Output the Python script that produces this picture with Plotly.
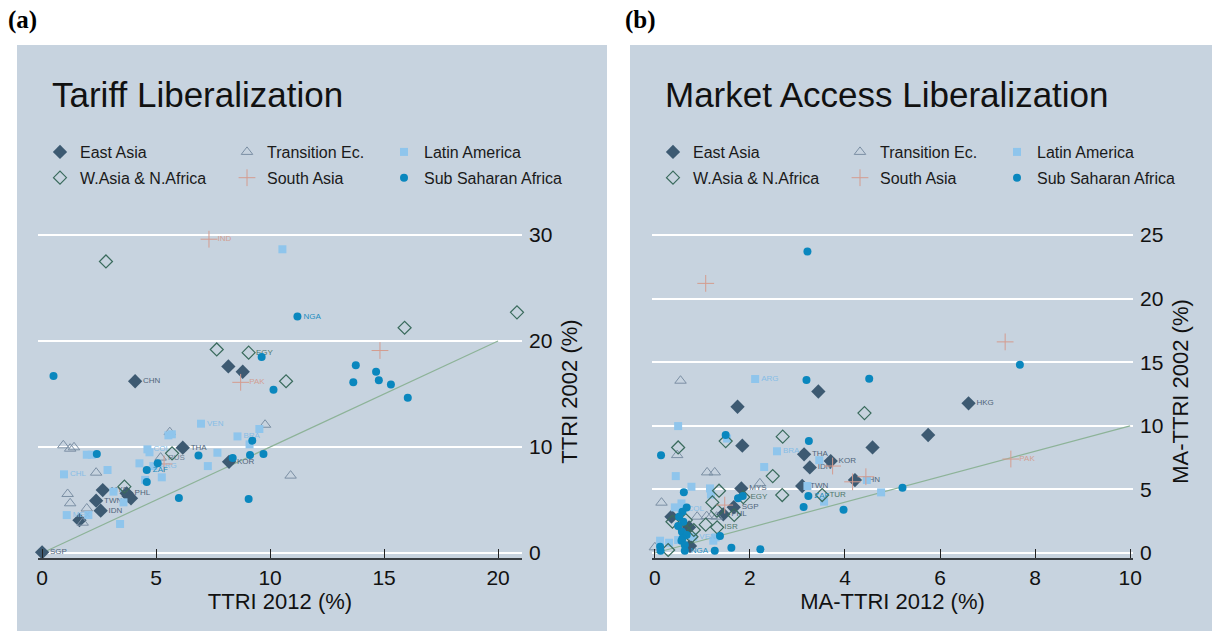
import plotly.graph_objects as go

# ---------------- Panel (a): TTRI 2012 vs TTRI 2002 ----------------
ea_a_x = [4.08, 8.17, 8.80, 6.17, 8.20, 2.66, 3.71, 3.79, 3.90, 2.37, 2.57, 1.64, 0.0]
ea_a_y = [16.2, 17.6, 17.1, 9.94, 8.6, 5.94, 5.63, 5.38, 5.16, 4.94, 3.99, 3.1, 0.07]
ea_a_lab = ["CHN", "", "", "THA", "KOR", "MYS", "PHL", "", "", "TWN", "IDN", "", "SGP"]

tr_a_x = [9.78, 5.60, 5.20, 0.93, 1.23, 1.40, 2.37, 1.12, 1.23, 1.96, 1.78, 10.9]
tr_a_y = [12.1, 11.4, 9.0, 10.16, 9.84, 9.97, 7.58, 5.57, 4.69, 4.2, 2.86, 7.3]
tr_a_lab = ["", "", "RUS", "", "", "", "", "", "", "", "", ""]

la_a_x = [10.54, 6.97, 9.53, 8.57, 9.10, 5.54, 5.69, 4.62, 4.71, 7.69, 4.88, 4.27, 7.27,
          5.25, 4.52, 1.96, 2.18, 0.96, 2.87, 1.08, 2.03, 3.42, 3.13, 3.57]
la_a_y = [28.65, 12.2, 11.7, 11.0, 10.25, 11.1, 11.2, 9.78, 9.5, 9.46, 8.2, 8.46, 8.2,
          7.14, 6.9, 9.27, 9.27, 7.42, 7.83, 3.58, 3.58, 2.74, 5.79, 4.78]
la_a_lab = ["", "VEN", "", "BRA", "", "", "", "COL", "", "", "ARG", "", "",
            "", "", "", "", "CHL", "", "MEX", "", "", "", ""]

wa_a_x = [7.66, 9.06, 10.7, 15.9, 20.83, 5.70, 3.61, 2.80]
wa_a_y = [19.2, 18.9, 16.2, 21.25, 22.7, 9.4, 6.26, 27.5]
wa_a_lab = ["", "EGY", "", "", "", "", "", ""]

sa_a_x = [7.32, 8.71, 14.82, 5.35]
sa_a_y = [29.6, 16.1, 19.1, 8.4]
sa_a_lab = ["IND", "PAK", "", ""]

ss_a_x = [11.2, 9.63, 10.15, 0.50, 13.76, 14.65, 13.65, 14.77, 15.3, 16.04, 9.22, 9.12,
          9.71, 6.86, 8.36, 5.07, 4.59, 4.59, 6.0, 9.06, 2.40]
ss_a_y = [22.3, 18.5, 15.4, 16.7, 17.7, 17.1, 16.1, 16.3, 15.9, 14.65, 10.6, 9.25,
          9.34, 9.2, 8.96, 8.46, 7.83, 6.7, 5.2, 5.1, 9.34]
ss_a_lab = ["NGA", "", "", "", "", "", "", "", "", "", "", "",
            "", "", "", "", "ZAF", "", "", "", ""]

diag_a = [0, 20]

# ---------------- Panel (b): MA-TTRI 2012 vs MA-TTRI 2002 ----------------
ea_b_x = [6.60, 3.44, 1.74, 1.84, 5.75, 4.58, 3.14, 3.70, 3.26, 4.21, 1.82, 3.10, 1.66,
          1.44, 0.35, 0.72, 0.74]
ea_b_y = [11.77, 12.7, 11.5, 8.44, 9.28, 8.3, 7.76, 7.23, 6.73, 5.74, 5.08, 5.27, 3.6,
          3.04, 2.86, 2.02, 0.55]
ea_b_lab = ["HKG", "", "", "", "", "", "THA", "KOR", "IDN", "CHN", "MYS", "TWN", "SGP",
            "PHL", "", "", ""]

tr_b_x = [0.54, 0.47, 1.10, 1.26, 2.21, 0.14, 0.89, 1.09, 1.19, 1.30, 0.0]
tr_b_y = [13.55, 7.7, 6.34, 6.34, 5.48, 3.96, 2.86, 2.9, 2.9, 2.86, 0.45]
tr_b_lab = [""] * 11

la_b_x = [2.11, 0.49, 1.52, 2.57, 3.46, 2.30, 0.44, 0.77, 1.16, 1.18, 3.21, 3.56, 4.76,
          0.56, 0.56, 0.42, 0.81, 1.23, 1.28, 0.11, 0.30, 0.49, 4.46]
la_b_y = [13.68, 9.98, 9.0, 8.0, 7.3, 6.76, 6.05, 5.21, 5.08, 4.6, 5.27, 4.04, 4.77,
          3.46, 3.9, 3.59, 1.28, 0.97, 1.23, 0.97, 0.81, 1.02, 5.74]
la_b_lab = ["ARG", "", "", "BRA", "", "", "", "", "", "", "", "", "",
            "COL", "", "", "VEN", "", "", "", "", "", ""]

wa_b_x = [4.41, 1.49, 2.69, 0.49, 2.48, 1.35, 2.68, 3.52, 1.86, 1.21, 1.31, 1.67, 1.07,
          1.31, 0.37, 0.65, 0.82, 0.77, 0.28, 0.63]
wa_b_y = [11.0, 8.8, 9.15, 8.3, 6.05, 4.9, 4.56, 4.56, 4.4, 3.98, 3.33, 2.99, 2.23,
          2.02, 2.46, 2.59, 1.81, 1.28, 0.24, 1.81]
wa_b_lab = ["", "", "", "", "", "", "", "TUR", "EGY", "", "", "", "",
            "ISR", "", "", "", "", "", ""]

sa_b_x = [1.07, 7.37, 7.49, 3.74, 4.16, 4.44, 1.47]
sa_b_y = [21.2, 16.6, 7.39, 6.84, 5.6, 6.0, 3.77]
sa_b_lab = ["", "", "PAK", "", "", "", ""]

ss_b_x = [3.21, 7.68, 3.19, 4.51, 1.49, 3.24, 0.13, 3.23, 0.61, 1.85, 1.75, 3.13, 3.97,
          5.21, 0.67, 0.58, 0.51, 0.60, 0.49, 0.57, 0.67, 0.58, 0.56, 0.63, 0.11, 0.12,
          0.63, 1.26, 1.61, 2.22, 1.37]
ss_b_y = [23.7, 14.8, 13.6, 13.7, 9.28, 8.8, 7.68, 4.48, 4.77, 4.48, 4.3, 3.62, 3.41,
          5.13, 3.59, 3.25, 2.86, 2.46, 2.12, 1.68, 1.42, 1.15, 0.97, 0.63, 0.5, 0.18,
          0.18, 0.18, 0.42, 0.29, 1.34]
ss_b_lab = ["", "", "", "", "", "", "", "ZAF", "", "", "", "", "",
            "", "", "", "", "", "", "", "", "", "", "", "", "",
            "NGA", "", "", "", ""]

diag_b = [0, 10]

# ---------------- Styling ----------------
W, H = 1212, 631
BG = "#c7d3df"
FONT = "Liberation Sans, Arial, sans-serif"

GROUPS = [
    # name, marker symbol, size, color, label color, line width, legend column
    ("East Asia", "diamond", 11, "#3d5a72", "#4f657a", 0, 0),
    ("Transition Ec.", "triangle-up-open", 10, "#7b8fa4", "#6f8296", 1, 1),
    ("Latin America", "square", 8, "#8fc5ec", "#86bde6", 0, 2),
    ("W.Asia & N.Africa", "diamond-open", 10, "#3a6b5d", "#4f786c", 1.2, 0),
    ("South Asia", "cross-thin-open", 12, "#d49c8f", "#d2a093", 1, 1),
    ("Sub Saharan Africa", "circle", 8, "#0a87be", "#1d8dc0", 0, 2),
]

panel_a = [(ea_a_x, ea_a_y, ea_a_lab), (tr_a_x, tr_a_y, tr_a_lab), (la_a_x, la_a_y, la_a_lab),
           (wa_a_x, wa_a_y, wa_a_lab), (sa_a_x, sa_a_y, sa_a_lab), (ss_a_x, ss_a_y, ss_a_lab)]
panel_b = [(ea_b_x, ea_b_y, ea_b_lab), (tr_b_x, tr_b_y, tr_b_lab), (la_b_x, la_b_y, la_b_lab),
           (wa_b_x, wa_b_y, wa_b_lab), (sa_b_x, sa_b_y, sa_b_lab), (ss_b_x, ss_b_y, ss_b_lab)]

fig = go.Figure()


def add_panel(data, diag, xa, ya, legend_ids, tag):
    fig.add_trace(go.Scatter(x=diag, y=diag, mode="lines", xaxis=xa, yaxis=ya,
                             line=dict(color="#8db398", width=1.2), showlegend=False,
                             hoverinfo="skip"))
    for (xs, ys, labs), (name, sym, size, col, lcol, lw, lcolumn) in zip(data, GROUPS):
        fig.add_trace(go.Scatter(
            x=xs, y=ys, text=labs, mode="markers+text", name=name,
            xaxis=xa, yaxis=ya, legend=legend_ids[lcolumn],
            legendgroup=tag + name,
            textposition="middle right",
            textfont=dict(family=FONT, size=8, color=lcol),
            marker=dict(symbol=sym, size=size, color=col,
                        line=dict(color=col, width=lw)),
            cliponaxis=False,
        ))


add_panel(panel_a, diag_a, "x", "y", ["legend", "legend2", "legend3"], "a")
add_panel(panel_b, diag_b, "x2", "y2", ["legend4", "legend5", "legend6"], "b")


def px_x(v):
    return v / W


def px_y(v):
    return 1 - v / H


ydom = [px_y(558), px_y(225)]

axis_font = dict(family=FONT, size=21, color="#111111")
xcommon = dict(showgrid=False, zeroline=False, showline=True, linecolor="#3a3f44",
               linewidth=1.5, ticks="inside", ticklen=9, tickwidth=1, tickcolor="#222222",
               tickfont=axis_font, title_font=dict(family=FONT, size=22, color="#111111"),
               title_standoff=0, automargin=False, fixedrange=True)
ycommon = dict(showgrid=True, gridcolor="#ffffff", gridwidth=2.2, zeroline=False,
               showline=False, ticks="", side="right", tickfont=axis_font,
               ticklabelstandoff=6,
               title_font=dict(family=FONT, size=22, color="#111111"),
               title_standoff=10, automargin=False, fixedrange=True)

legend_common = dict(orientation="v", bgcolor="rgba(0,0,0,0)", borderwidth=0,
                     font=dict(family=FONT, size=16, color="#1a1a1a"),
                     xanchor="left", yanchor="top", tracegroupgap=2,
                     itemsizing="trace", itemclick=False, itemdoubleclick=False)
leg_cols_a = [40, 227, 384]
leg_cols_b = [653, 840, 997]
legends = {}
names = ["legend", "legend2", "legend3", "legend4", "legend5", "legend6"]
for i, xp in enumerate(leg_cols_a + leg_cols_b):
    legends[names[i]] = dict(legend_common, x=px_x(xp), y=px_y(135))

shapes = [
    dict(type="rect", xref="paper", yref="paper", x0=px_x(17), x1=px_x(607),
         y0=0, y1=px_y(45), fillcolor=BG, line=dict(width=0), layer="below"),
    dict(type="rect", xref="paper", yref="paper", x0=px_x(630), x1=1,
         y0=0, y1=px_y(45), fillcolor=BG, line=dict(width=0), layer="below"),
]

annotations = [
    dict(text="<b>(a)</b>", x=px_x(6), y=px_y(20), xref="paper", yref="paper",
         xanchor="left", yanchor="middle", showarrow=False,
         font=dict(family="Liberation Serif, Times New Roman, serif", size=25, color="#000000")),
    dict(text="<b>(b)</b>", x=px_x(623), y=px_y(20), xref="paper", yref="paper",
         xanchor="left", yanchor="middle", showarrow=False,
         font=dict(family="Liberation Serif, Times New Roman, serif", size=25, color="#000000")),
    dict(text="Tariff Liberalization", x=px_x(50), y=px_y(95), xref="paper", yref="paper",
         xanchor="left", yanchor="middle", showarrow=False,
         font=dict(family=FONT, size=35, color="#111111")),
    dict(text="Market Access Liberalization", x=px_x(663), y=px_y(95), xref="paper",
         yref="paper", xanchor="left", yanchor="middle", showarrow=False,
         font=dict(family=FONT, size=35, color="#111111")),
]

fig.update_layout(
    width=W, height=H, autosize=False, margin=dict(l=0, r=0, t=0, b=0),
    paper_bgcolor="#ffffff", plot_bgcolor="rgba(0,0,0,0)",
    showlegend=True,
    xaxis=dict(xcommon, domain=[px_x(38), px_x(522)], range=[-0.18, 21.05],
               tickvals=[0, 5, 10, 15, 20], title_text="TTRI 2012 (%)", anchor="y"),
    yaxis=dict(ycommon, domain=ydom, range=[-0.47, 30.94], tickvals=[0, 10, 20, 30],
               title_text="TTRI 2002 (%)", anchor="x"),
    xaxis2=dict(xcommon, domain=[px_x(652), px_x(1133)], range=[-0.06, 10.06],
                tickvals=[0, 2, 4, 6, 8, 10], title_text="MA-TTRI 2012 (%)", anchor="y2"),
    yaxis2=dict(ycommon, domain=ydom, range=[-0.39, 25.79], tickvals=[0, 5, 10, 15, 20, 25],
                title_text="MA-TTRI 2002 (%)", anchor="x2"),
    shapes=shapes, annotations=annotations,
    **legends,
)

fig.write_html("out.html", config={"responsive": False},
               default_width="1212px", default_height="631px")
